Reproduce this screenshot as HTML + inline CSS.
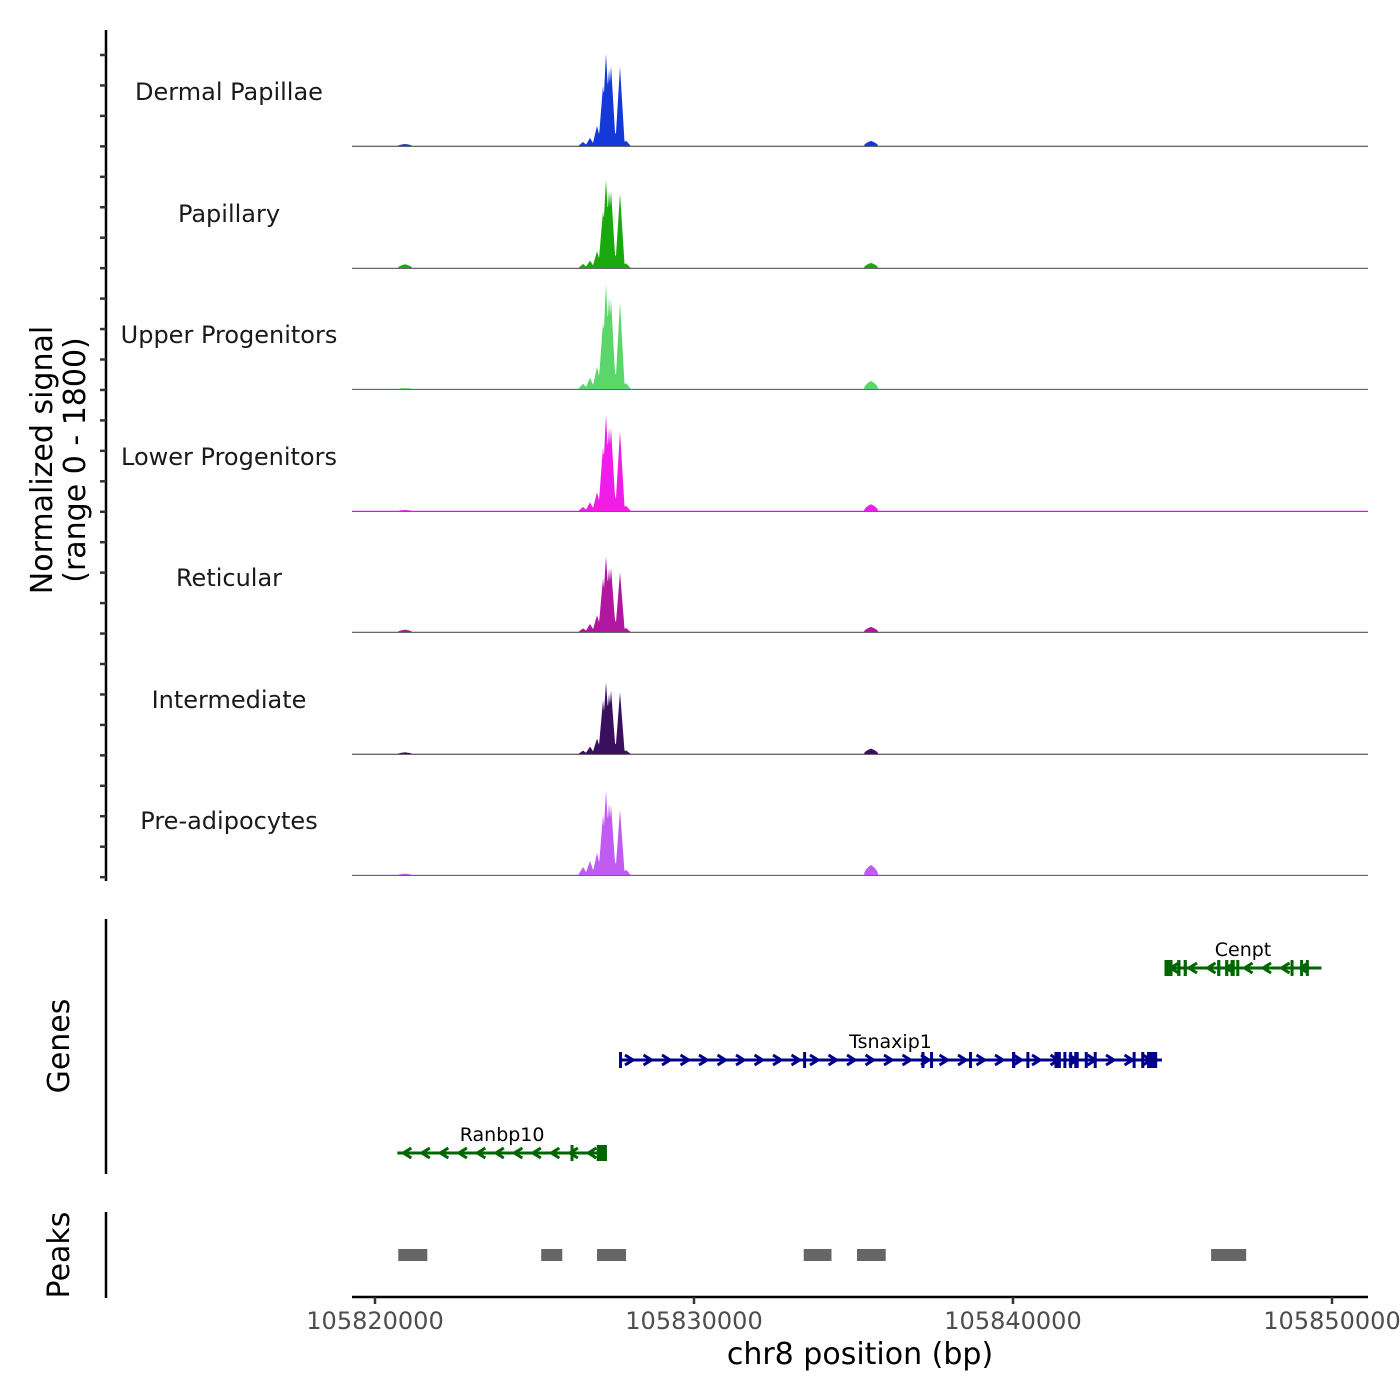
<!DOCTYPE html>
<html><head><meta charset="utf-8">
<style>
html,body{margin:0;padding:0;background:#fff;}
svg{display:block;font-family:"DejaVu Sans","Liberation Sans",sans-serif;}
</style></head>
<body>
<svg id="chart" width="1400" height="1400" viewBox="0 0 1400 1400"></svg>
<script>
// ---------- data ----------
const tracks = ["Dermal Papillae","Papillary","Upper Progenitors","Lower Progenitors","Reticular","Intermediate","Pre-adipocytes"];
const trackColors = ["#1538d8","#19a80e","#5ad66a","#ee1ee8","#b0169e","#3a0f5e","#c05cf2"];
const peakPositions = [105826521,105826740,105826960,105827148,105827242,105827336,105827399,105827524,105827680,105827868,105835549,105820940];
const valsDermal  = [60,120,300,900,1380,1150,1200,200,1180,80,75,30];
const valsPapillary=[60,110,250,850,1320,1150,1150,200,1110,70,75,55];
const valsUpper   = [80,170,330,1000,1570,1380,1350,250,1290,90,120,15];
const valsLower   = [60,130,280,950,1440,1250,1240,220,1190,80,100,15];
const valsReticular=[55,120,250,800,1130,950,960,180,890,60,75,35];
const valsInter   = [50,110,230,800,1070,900,950,160,920,55,80,25];
const valsPreadipo= [120,210,330,900,1260,1070,1050,200,970,80,150,20];
const trackValues = [valsDermal,valsPapillary,valsUpper,valsLower,valsReticular,valsInter,valsPreadipo];
const yMax = 1800;
const xTicks = [105820000,105830000,105840000,105850000];
const xTickLabels = ["105820000","105830000","105840000","105850000"];
const geneNames = ["Cenpt","Tsnaxip1","Ranbp10"];
const geneStrands = [-1,1,-1];
const geneStarts = [105844750,105827650,105820700];
const geneEnds   = [105849670,105844670,105827270];
const geneExons = [
 [[105844750,105845000],[105845150,105845250],[105845350,105845450],[105846400,105846500],[105846650,105846750],[105846820,105846950],[105847000,105847080],[105848700,105848780],[105849000,105849080],[105849180,105849260]],
 [[105827650,105827700],[105833420,105833470],[105837130,105837200],[105837400,105837470],[105838620,105838670],[105839970,105840070],[105840420,105840480],[105841300,105841500],[105841580,105841650],[105841760,105841830],[105841920,105842060],[105842250,105842300],[105842530,105842580],[105843750,105843800],[105844020,105844080],[105844200,105844520]],
 [[105826130,105826180],[105826950,105827270]]
];
const peakStarts = [105820730,105825210,105826960,105833440,105835110,105846210];
const peakEnds   = [105821640,105825870,105827870,105834310,105836010,105847310];

// ---------- scales ----------
const X0=352, X1=1368;
const bpPerPx = 10000/319;
function xs(bp){ return 375 + (bp-105820000)/bpPerPx; }
const baselines=[146,268,389,511,632,754,875];
const trackH=121;
function ys(i,v){ return baselines[i] - v/yMax*trackH; }

const NS="http://www.w3.org/2000/svg";
const svg=document.getElementById('chart');
function el(tag,attrs,parent){const e=document.createElementNS(NS,tag);for(const k in attrs)e.setAttribute(k,attrs[k]);(parent||svg).appendChild(e);return e;}

// ---------- coverage tracks ----------
const halfW=150;
tracks.forEach((name,i)=>{
  const g=el('g',{});
  
  
  const vals=trackValues[i];
  let pts=[[X0,baselines[i]]];
  for(let px=X0;px<=X1;px+=0.5){
    const bp=105820000+(px-375)*bpPerPx;
    let v=4;
    for(let k=0;k<peakPositions.length;k++){
      const d=Math.abs(bp-peakPositions[k]);
      const w = k>=10?220:halfW;
      if(d<w){ const f=1-d/w; v=Math.max(v, vals[k]*(k>=10?Math.sqrt(f):f)); }
    }
    pts.push([px,ys(i,v)]);
  }
  pts.push([X1,baselines[i]]);
  const p=el('polygon',{points:pts.map(p=>p[0].toFixed(1)+','+p[1].toFixed(1)).join(' '),fill:trackColors[i]},g);
  
  
  const bl=el('line',{x1:X0,x2:X1,y1:baselines[i]+0.5,y2:baselines[i]+0.5,stroke:'#666','stroke-width':1},g);
  
  
  const t=el('text',{x:229,y:baselines[i]-46,'text-anchor':'middle','font-size':24,fill:'#1a1a1a'},g);
  t.textContent=name;
  
  
});

// y-axis
const ya=el('line',{x1:106,x2:106,y1:30,y2:881,stroke:'#000','stroke-width':2.5});


for(let y=55;y<=878;y+=30.45){
  const tk=el('line',{x1:100,x2:106,y1:y,y2:y,stroke:'#333','stroke-width':2.5});
  
  
}
const yt=el('text',{transform:'translate(52,460) rotate(-90)','text-anchor':'middle','font-size':30,fill:'#000'});


const ts1=el('tspan',{x:0,dy:0},yt);ts1.textContent='Normalized signal';
const ts2=el('tspan',{x:0,dy:33},yt);ts2.textContent='(range 0 - 1800)';

// ---------- genes ----------
const ga=el('line',{x1:106,x2:106,y1:919,y2:1174,stroke:'#000','stroke-width':2.5});


const gt=el('text',{transform:'translate(69,1046) rotate(-90)','text-anchor':'middle','font-size':30,fill:'#000'});
gt.textContent='Genes';


const geneY=[968,1060,1153];
const geneCol=['#006400','#00008b','#006400'];
geneNames.forEach((n,i)=>{
  const g=el('g',{});
  
  
  const x1=xs(geneStarts[i]),x2=xs(geneEnds[i]),y=geneY[i],c=geneCol[i];
  el('line',{x1:x1,x2:x2,y1:y,y2:y,stroke:c,'stroke-width':3},g);
  for(let x=x1+10;x<x2-6;x+=18.5){
    const d=geneStrands[i]*4;
    el('polyline',{points:`${x-d},${y-5} ${x+d},${y} ${x-d},${y+5}`,fill:'none',stroke:c,'stroke-width':3},g);
  }
  geneExons[i].forEach(e=>{
    const a=xs(e[0]),b=xs(e[1]);
    el('rect',{x:a,y:y-8,width:Math.max(b-a,3),height:16,fill:c},g);
  });
  const t=el('text',{x:(x1+x2)/2,y:y-12,'text-anchor':'middle','font-size':19,fill:'#000'},g);
  t.textContent=n;
  
  
});

// ---------- peaks ----------
const pa=el('line',{x1:106,x2:106,y1:1212,y2:1298,stroke:'#000','stroke-width':2.5});


const pt=el('text',{transform:'translate(69,1255) rotate(-90)','text-anchor':'middle','font-size':30,fill:'#000'});
pt.textContent='Peaks';


peakStarts.forEach((s,i)=>{
  const r=el('rect',{x:xs(s),y:1249,width:xs(peakEnds[i])-xs(s),height:12,fill:'#666'});
  
  
});

// ---------- x axis ----------
const xa=el('line',{x1:X0,x2:X1,y1:1297,y2:1297,stroke:'#000','stroke-width':2.5});


xTicks.forEach((t,i)=>{
  const x=xs(t);
  const tk=el('line',{x1:x,x2:x,y1:1297,y2:1304,stroke:'#333','stroke-width':2.5});
  
  
  const lb=el('text',{x:x,y:1329,'text-anchor':'middle','font-size':24,fill:'#4d4d4d'});
  lb.textContent=xTickLabels[i];
  
  
});
const xt=el('text',{x:860,y:1364,'text-anchor':'middle','font-size':30,fill:'#000'});
xt.textContent='chr8 position (bp)';


</script>
</body></html>
